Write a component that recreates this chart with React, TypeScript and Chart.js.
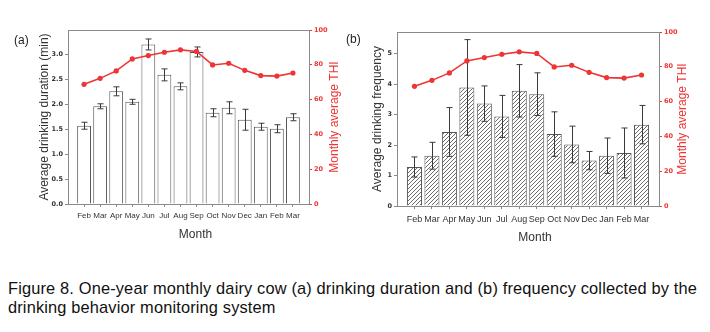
import React, { useEffect, useRef } from 'react';
import { Chart, registerables } from 'chart.js';

Chart.register(...registerables);

// ---- data ----
const months = ['Feb', 'Mar', 'Apr', 'May', 'Jun', 'Jul', 'Aug', 'Sep', 'Oct', 'Nov', 'Dec', 'Jan', 'Feb', 'Mar'];
const durationMean = [1.57, 1.96, 2.26, 2.05, 3.2, 2.59, 2.36, 3.05, 1.83, 1.93, 1.69, 1.55, 1.51, 1.74];
const durationErr = [0.07, 0.05, 0.09, 0.05, 0.11, 0.12, 0.07, 0.1, 0.08, 0.12, 0.21, 0.07, 0.08, 0.07];
const frequencyMean = [1.28, 1.65, 2.43, 3.89, 3.36, 2.94, 3.78, 3.67, 2.36, 2.02, 1.49, 1.65, 1.74, 2.67];
const frequencyErr = [0.33, 0.44, 0.8, 1.57, 0.58, 0.69, 0.86, 0.7, 0.73, 0.6, 0.3, 0.58, 0.82, 0.63];
const thi = [68.8, 72.2, 76.5, 83.4, 85.3, 87.2, 88.6, 87.7, 79.9, 80.9, 76.8, 73.8, 73.5, 75.3];
const durationTicks = [0, 0.5, 1, 1.5, 2, 2.5, 3];
const frequencyTicks = [0, 1, 2, 3, 4, 5];
const thiTicks = [0, 20, 40, 60, 80, 100];

const RED = '#ee3535';
const GRAY = '#8a8a8a';
const TEXT = '#333333';
const SANS = "'Liberation Sans', Arial, sans-serif";
const TICKFONT = "'DejaVu Sans', sans-serif";

const padded = (arr: any[], fill: any) => [fill, ...arr, fill];

const errorBarPlugin = {
  id: 'errorBars',
  afterDatasetDraw(chart: any, args: any, opts: any) {
    if (args.index !== 0 || !opts || !opts.errors) return;
    const meta = chart.getDatasetMeta(0);
    const y = chart.scales.y;
    const ctx = chart.ctx;
    ctx.save();
    ctx.strokeStyle = '#3a3a3a';
    ctx.lineWidth = 1;
    opts.means.forEach((m: number, i: number) => {
      const el = meta.data[i + 1];
      if (!el) return;
      const x = Math.round(el.x) + 0.5;
      const top = y.getPixelForValue(m + opts.errors[i]);
      const bot = y.getPixelForValue(m - opts.errors[i]);
      const cap = opts.cap || 3;
      ctx.beginPath();
      ctx.moveTo(x, top);
      ctx.lineTo(x, bot);
      ctx.moveTo(x - cap, top);
      ctx.lineTo(x + cap, top);
      ctx.moveTo(x - cap, bot);
      ctx.lineTo(x + cap, bot);
      ctx.stroke();
    });
    ctx.restore();
  },
};

const framePlugin = {
  id: 'frame',
  afterDatasetsDraw(chart: any) {
    const { ctx, chartArea } = chart;
    const { left, top, right, bottom } = chartArea;
    ctx.save();
    ctx.strokeStyle = GRAY;
    ctx.lineWidth = 1;
    ctx.strokeRect(Math.round(left) + 0.5, Math.round(top) + 0.5, Math.round(right - left), Math.round(bottom - top));
    ctx.restore();
  },
};

// axis titles: right one reads bottom-to-top, bottom one sits slightly right of centre
const axisTitlesPlugin = {
  id: 'axisTitles',
  afterDraw(chart: any, _args: any, opts: any) {
    if (!opts) return;
    const { ctx, chartArea } = chart;
    const s = chart.scales.y1;
    const x = chart.scales.x;
    ctx.save();
    ctx.font = `${opts.size}px ${SANS}`;
    ctx.textAlign = 'center';
    ctx.textBaseline = 'middle';
    ctx.fillStyle = TEXT;
    ctx.fillText(opts.bottomText, (chartArea.left + chartArea.right) / 2 + opts.bottomShift, x.bottom - opts.bottomOffset);
    ctx.fillStyle = RED;
    ctx.translate(s.right - opts.rightOffset, (chartArea.top + chartArea.bottom) / 2);
    ctx.rotate(-Math.PI / 2);
    ctx.fillText(opts.rightText, 0, 0);
    ctx.restore();
  },
};

function makeHatch(): any {
  const s = 4;
  const c = document.createElement('canvas');
  c.width = s;
  c.height = s;
  const g = c.getContext('2d')!;
  g.fillStyle = '#ffffff';
  g.fillRect(0, 0, s, s);
  g.strokeStyle = '#5a5a5a';
  g.lineWidth = 0.9;
  g.beginPath();
  g.moveTo(0, s);
  g.lineTo(s, 0);
  g.moveTo(-1, 1);
  g.lineTo(1, -1);
  g.moveTo(s - 1, s + 1);
  g.lineTo(s + 1, s - 1);
  g.stroke();
  const p = g.createPattern(c, 'repeat');
  return p || '#ffffff';
}

interface Cfg {
  means: number[];
  errors: number[];
  yMax: number;
  yTicks: number[];
  yDecimals: number;
  yTitle: string;
  hatched: boolean;
  barPct: number;
  xFont: { family: string; size: number };
  xTickPad: number;
  leftW: number;
  rightW: number;
  bottomH: number;
  topPad: number;
  leftTitlePad: number;
  rightTitleOffset: number;
  bottomTitleOffset: number;
}

function buildChart(canvas: HTMLCanvasElement, cfg: Cfg) {
  const labels = padded(months, '');
  const last = labels.length - 1;
  const barFill = cfg.hatched ? makeHatch() : '#ffffff';
  return new Chart(canvas, {
    type: 'bar',
    data: {
      labels,
      datasets: [
        {
          type: 'bar',
          data: padded(cfg.means, null),
          backgroundColor: barFill,
          borderColor: '#555555',
          borderWidth: 1,
          categoryPercentage: 1,
          barPercentage: cfg.barPct,
          yAxisID: 'y',
          order: 1,
        } as any,
        {
          type: 'line',
          data: padded(thi, null),
          borderColor: RED,
          backgroundColor: RED,
          borderWidth: 1.6,
          pointRadius: 2.6,
          pointBorderWidth: 0,
          pointBackgroundColor: RED,
          yAxisID: 'y1',
          order: 0,
        } as any,
      ],
    },
    options: {
      responsive: false,
      animation: false,
      events: [],
      layout: { padding: { top: cfg.topPad, left: 0, right: 0, bottom: 0 } },
      plugins: {
        legend: { display: false },
        tooltip: { enabled: false },
        errorBars: { means: cfg.means, errors: cfg.errors, cap: 3 },
        axisTitles: {
          size: 12,
          rightText: 'Monthly average THI',
          rightOffset: cfg.rightTitleOffset,
          bottomText: 'Month',
          bottomOffset: cfg.bottomTitleOffset,
          bottomShift: 7,
        },
      } as any,
      scales: {
        x: {
          type: 'category',
          offset: false,
          grid: {
            display: true,
            offset: false,
            drawOnChartArea: false,
            drawTicks: true,
            tickLength: 3,
            color: GRAY,
            tickColor: (c: any) => (c.index === 0 || c.index === last ? 'rgba(0,0,0,0)' : GRAY),
          },
          border: { display: false },
          ticks: {
            autoSkip: false,
            maxRotation: 0,
            minRotation: 0,
            padding: cfg.xTickPad,
            color: TEXT,
            font: cfg.xFont,
          },
          title: { display: false },
          afterFit: (s: any) => {
            s.height = cfg.bottomH;
          },
        },
        y: {
          position: 'left',
          min: 0,
          max: cfg.yMax,
          afterBuildTicks: (s: any) => {
            s.ticks = cfg.yTicks.map((v) => ({ value: v }));
          },
          ticks: {
            callback: (v: any) => Number(v).toFixed(cfg.yDecimals),
            color: TEXT,
            padding: 2,
            font: { family: TICKFONT, size: 6.5, weight: 'bold' },
          },
          grid: { display: true, drawOnChartArea: false, drawTicks: true, tickLength: 3, color: GRAY },
          border: { display: false },
          title: {
            display: true,
            text: cfg.yTitle,
            color: TEXT,
            font: { family: SANS, size: 12 },
            padding: { top: cfg.leftTitlePad, bottom: 0 },
          },
          afterFit: (s: any) => {
            s.width = cfg.leftW;
          },
        },
        y1: {
          position: 'right',
          min: 0,
          max: 100,
          afterBuildTicks: (s: any) => {
            s.ticks = thiTicks.map((v) => ({ value: v }));
          },
          ticks: {
            color: RED,
            padding: 2,
            font: { family: TICKFONT, size: 6.5, weight: 'bold' },
          },
          grid: { display: true, drawOnChartArea: false, drawTicks: true, tickLength: 3, color: RED },
          border: { display: false },
          title: { display: false },
          afterFit: (s: any) => {
            s.width = cfg.rightW;
          },
        },
      } as any,
    },
    plugins: [errorBarPlugin as any, framePlugin as any, axisTitlesPlugin as any],
  });
}

export default function App() {
  const refA = useRef<HTMLCanvasElement>(null);
  const refB = useRef<HTMLCanvasElement>(null);

  useEffect(() => {
    const a = buildChart(refA.current!, {
      means: durationMean,
      errors: durationErr,
      yMax: 3.49,
      yTicks: durationTicks,
      yDecimals: 1,
      yTitle: 'Average drinking duration (min)',
      hatched: false,
      barPct: 0.86,
      xFont: { family: SANS, size: 8 },
      xTickPad: 4,
      leftW: 68,
      rightW: 36,
      bottomH: 56,
      topPad: 30,
      leftTitlePad: 37.8,
      rightTitleOffset: 10,
      bottomTitleOffset: 25,
    });
    const b = buildChart(refB.current!, {
      means: frequencyMean,
      errors: frequencyErr,
      yMax: 5.71,
      yTicks: frequencyTicks,
      yDecimals: 0,
      yTitle: 'Average drinking frequency',
      hatched: true,
      barPct: 0.86,
      xFont: { family: SANS, size: 9 },
      xTickPad: 5,
      leftW: 52,
      rightW: 51,
      bottomH: 54,
      topPad: 32,
      leftTitlePad: 25.8,
      rightTitleOffset: 27,
      bottomTitleOffset: 22,
    });
    return () => {
      a.destroy();
      b.destroy();
    };
  }, []);

  const label: React.CSSProperties = {
    position: 'absolute',
    fontFamily: SANS,
    fontSize: 12,
    color: '#222',
    lineHeight: '14px',
  };

  return (
    <div style={{ position: 'absolute', left: 0, top: 0, width: 710, height: 332, background: '#fff', overflow: 'hidden' }}>
      <canvas ref={refA} width={345} height={260} style={{ position: 'absolute', left: 0, top: 0, width: 345, height: 260 }} />
      <canvas ref={refB} width={365} height={260} style={{ position: 'absolute', left: 345, top: 0, width: 365, height: 260 }} />
      <div style={{ ...label, left: 14, top: 33 }}>(a)</div>
      <div style={{ ...label, left: 346, top: 32 }}>(b)</div>
      <div
        style={{
          position: 'absolute',
          left: 8,
          top: 279,
          fontFamily: SANS,
          fontSize: 16.4,
          letterSpacing: '0.15px',
          lineHeight: '19px',
          color: '#111',
          whiteSpace: 'nowrap',
        }}
      >
        Figure 8. One-year monthly dairy cow (a) drinking duration and (b) frequency collected by the
        <br />
        drinking behavior monitoring system
      </div>
    </div>
  );
}
